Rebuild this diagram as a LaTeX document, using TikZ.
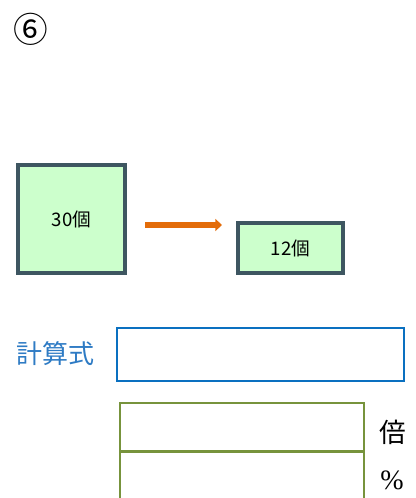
\documentclass[tikz,border=0pt]{standalone}
\usepackage{fontspec}
\setmainfont{Liberation Serif}
\newfontfamily\jp{Noto Sans CJK JP}
\usetikzlibrary{arrows.meta}
\definecolor{boxfill}{HTML}{CCFFCC}
\definecolor{boxedge}{HTML}{3E5661}
\definecolor{arrowc}{HTML}{E36C09}
\definecolor{bluec}{HTML}{0A70C0}
\definecolor{labelblue}{HTML}{2E7BC4}
\definecolor{greenc}{HTML}{77933C}
\tikzset{
  itembox/.style={draw=boxedge, fill=boxfill, line width=2.3pt, inner sep=0pt, font=\jp\fontsize{14}{14}\selectfont},
  bluebox/.style={draw=bluec, line width=1.8pt, inner sep=0pt},
  greenbox/.style={draw=greenc, line width=1.7pt, inner sep=0pt},
}
\begin{document}
\begin{tikzpicture}[x=0.75pt,y=-0.75pt]
\useasboundingbox (0,0) rectangle (416,498);
\node (num) at (31,29) {\jp\fontsize{26}{26}\selectfont ⑥};
\node[itembox, minimum width=80.25pt, minimum height=81pt] (big) at (71.5,219) {30個};
\node[itembox, minimum width=78.75pt, minimum height=37.5pt] (small) at (290.5,248) {12個};
\coordinate (as) at (145,225);
\coordinate (ae) at (222,225);
\draw[arrowc, line width=4.5pt, -{Triangle[length=5pt,width=9pt]}] (as) -- (ae);
\node[text=labelblue, font=\jp\fontsize{19.5}{19.5}\selectfont] (kei) at (55.5,354) {計算式};
\node[bluebox, minimum width=215pt, minimum height=39.75pt] (siki) at (260.5,354.5) {};
\node[greenbox, minimum width=183pt, minimum height=36pt] (g1) at (242,427) {};
\node[greenbox, minimum width=183pt, minimum height=40pt, anchor=north] (g2) at (242,451) {};
\node[font=\jp\fontsize{20}{20}\selectfont] (bai) at (393,432) {倍};
\node[font=\fontsize{21}{21}\selectfont] (pct) at (392,480) {\%};
\end{tikzpicture}
\end{document}
